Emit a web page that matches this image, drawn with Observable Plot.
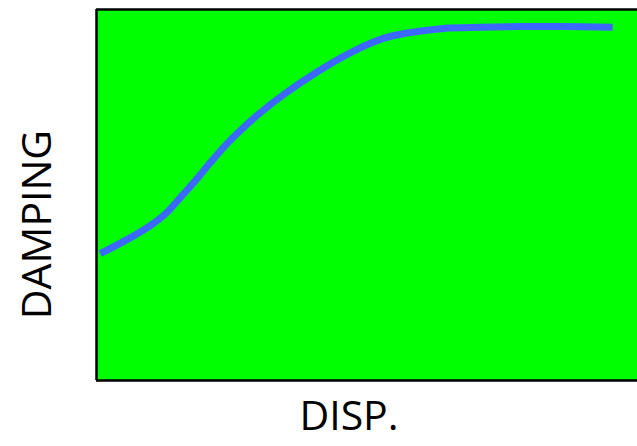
<!DOCTYPE html>
<html>
<head>
<meta charset="utf-8">
<script src="https://cdn.jsdelivr.net/npm/d3@7"></script>
<script src="https://cdn.jsdelivr.net/npm/@observablehq/plot@0.6"></script>
<style>
  html, body { margin: 0; padding: 0; background: #ffffff; overflow: hidden; }
  svg { display: block; }
</style>
</head>
<body>
<div id="chart"></div>
<script>
// Displacement (arbitrary units, 0–100) and damping (arbitrary units, 0–100)
const disp    = [0.7, 6.3, 10.0, 12.8, 15.5, 18.3, 21.1, 23.8, 26.6, 30.3, 34.6, 40.9, 47.0, 53.0, 58.0, 64.1, 71.0, 78.4, 85.8, 95.4];
const damping = [34.2, 38.5, 41.8, 45.0, 49.3, 53.9, 58.8, 63.3, 67.4, 72.2, 77.1, 83.3, 88.4, 92.2, 93.8, 94.9, 95.2, 95.4, 95.4, 95.2];
const xLabel = "DISP.";
const yLabel = "DAMPING";

const data = disp.map((d, i) => ({disp: d, damping: damping[i]}));

const chart = Plot.plot({
  width: 637,
  height: 446,
  marginLeft: 96,
  marginRight: 0,
  marginTop: 9,
  marginBottom: 66,
  style: {background: "#ffffff", fontFamily: "'Open Sans', sans-serif"},
  x: {domain: [0, 100], axis: null},
  y: {domain: [0, 100], axis: null},
  marks: [
    Plot.frame({fill: "#00ff00", stroke: null}),
    Plot.line(data, {x: "disp", y: "damping", stroke: "#3b69ff", strokeWidth: 7, curve: "catmull-rom", strokeLinecap: "butt"}),
    Plot.ruleX([0], {stroke: "#000000", strokeWidth: 2.5}),
    Plot.ruleY([0, 100], {stroke: "#000000", strokeWidth: 2.5}),
    Plot.text([xLabel], {frameAnchor: "bottom", text: d => d, textAnchor: "middle", dx: -18, dy: 49, fontSize: 41, fill: "#000000"}),
    Plot.text([yLabel], {frameAnchor: "left", text: d => d, textAnchor: "middle", rotate: -90, dx: -59, dy: 29.5, fontSize: 41, fill: "#000000"})
  ]
});
document.getElementById("chart").appendChild(chart);
</script>
</body>
</html>
